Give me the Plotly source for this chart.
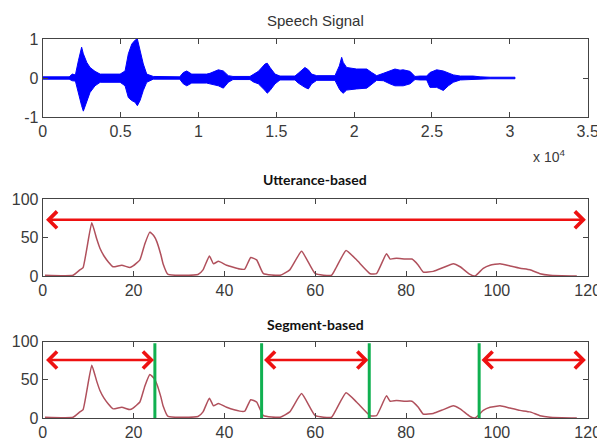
import plotly.graph_objects as go

# ---------------- data ----------------
# Speech waveform envelope (sample index, upper and lower amplitude)
speech_samples = [0, 1700, 1900, 2100, 2290, 2500, 2610, 2830, 3040, 3360,
                  3690, 4970, 5290, 5500, 5720, 5930, 6080, 6250, 6460, 6680,
                  7100, 8800, 9030, 9250, 9570, 10530, 10740, 11280, 11600, 11920,
                  12220, 13310, 13530, 13850, 14280, 14420, 14600, 14920, 15240, 16200,
                  16410, 16840, 17060, 17270, 17600, 18770, 19050, 19200, 19300, 19520,
                  20160, 20810, 21130, 21450, 21880, 22300, 22620, 22950, 23150, 23590,
                  23910, 24230, 24660, 24870, 25300, 25730, 26050, 26370, 26820, 27650,
                  28090, 28730, 30330]
speech_upper = [0.03, 0.03, 0.1, 0.08, 0.44, 0.79, 0.62, 0.40, 0.27, 0.17,
                0.1, 0.1, 0.18, 0.62, 0.87, 0.97, 1.0, 0.70, 0.36, 0.1,
                0.04, 0.03, 0.14, 0.18, 0.1, 0.1, 0.12, 0.21, 0.18, 0.06,
                0.04, 0.04, 0.1, 0.17, 0.36, 0.38, 0.27, 0.1, 0.05, 0.05,
                0.12, 0.27, 0.21, 0.1, 0.06, 0.06, 0.31, 0.53, 0.4, 0.27,
                0.23, 0.23, 0.14, 0.06, 0.12, 0.18, 0.23, 0.2, 0.21, 0.17,
                0.04, 0.05, 0.05, 0.14, 0.21, 0.18, 0.14, 0.08, 0.05, 0.05,
                0.03, 0.02, 0.02]
speech_lower = [-0.03, -0.03, -0.07, -0.08, -0.41, -0.71, -0.85, -0.58, -0.37, -0.2,
                -0.11, -0.11, -0.2, -0.5, -0.58, -0.62, -0.71, -0.58, -0.32, -0.11,
                -0.03, -0.03, -0.15, -0.2, -0.13, -0.13, -0.15, -0.2, -0.26, -0.11,
                -0.04, -0.04, -0.1, -0.15, -0.32, -0.39, -0.32, -0.15, -0.05, -0.05,
                -0.13, -0.24, -0.28, -0.15, -0.06, -0.06, -0.28, -0.36, -0.39, -0.31,
                -0.28, -0.26, -0.17, -0.06, -0.07, -0.15, -0.2, -0.2, -0.2, -0.15,
                -0.04, -0.05, -0.05, -0.24, -0.24, -0.32, -0.2, -0.11, -0.05, -0.05,
                -0.03, -0.02, -0.02]

# Frame-level feature curve (frame index, value)
frame_x = [0.5, 6.7, 8.2, 8.9, 10.8, 11.9, 12.6, 13.5, 14.5, 15.5,
           17.4, 19.2, 19.9, 21.4, 22.5, 23.6, 24.5, 25.1, 26.0, 26.5,
           27.6, 34.2, 35.3, 36.7, 37.6, 38.7, 40.5, 43.4, 44.5, 45.8,
           47.1, 48.6, 52.3, 54.4, 57.0, 60.0, 63.6, 64.7, 66.8, 69.1,
           72.1, 73.5, 75.7, 76.5, 77.9, 79.8, 81.3, 82.7, 83.8, 86.0,
           88.2, 90.4, 91.9, 94.1, 95.2, 97.0, 98.5, 100.7, 102.9, 105.1,
           107.3, 109.5, 111.7, 117.6]
frame_y = [1, 1, 8, 11, 69, 48, 36, 26, 18, 12,
           14, 11, 13, 21, 42, 57, 52, 45, 28, 16,
           2, 2, 8, 26, 16, 19, 14, 9, 9, 24,
           21, 3, 1, 8, 32, 3, 1, 12, 33, 21,
           3, 3, 29, 22, 23, 22, 22, 14, 5, 6,
           11, 16, 12, 2, 0, 10, 14, 16, 13, 10,
           8, 3, 1, 0]

# Utterance-level span and segment spans
utterance_span = [0.4, 119.6]
arrow_level_utt = 73
segment_bounds = [24.7, 48.2, 71.9, 96.1]
segment_spans = [[0.4, 24.5], [48.4, 71.7], [96.3, 119.6]]
arrow_level_seg = 76

speech_xticks = [0, 5000, 10000, 15000, 20000, 25000, 30000, 35000]
speech_xticklabels = ["0", "0.5", "1", "1.5", "2", "2.5", "3", "3.5"]
speech_yticks = [-1, 0, 1]
speech_yticklabels = ["-1", "0", "1"]
frame_xticks = [0, 20, 40, 60, 80, 100, 120]
frame_yticks = [0, 50, 100]

# ---------------- figure ----------------
W, H = 597, 441
BLUE = "#0000ff"
CURVE = "#b0505c"
ARROW = "#ee1111"
GREEN = "#10b050"
FRAME = "#444444"
TICKFONT = dict(family="Liberation Sans, Arial, sans-serif", size=16, color="#3a3a3a")

fig = go.Figure()

# speech envelope as filled polygon
fig.add_trace(go.Scatter(
    x=speech_samples + speech_samples[::-1],
    y=speech_upper + speech_lower[::-1],
    fill="toself", fillcolor=BLUE, mode="lines",
    line=dict(color=BLUE, width=1), xaxis="x", yaxis="y", hoverinfo="skip"))

for xa, ya in (("x2", "y2"), ("x3", "y3")):
    fig.add_trace(go.Scatter(x=frame_x, y=frame_y, mode="lines",
                             line=dict(color=CURVE, width=1.5, shape="spline", smoothing=0.4),
                             xaxis=xa, yaxis=ya))

def px_x(p):
    return p / W

def px_y(p):
    return 1 - p / H

L, R = px_x(42.7), px_x(587.7)
axis_common = dict(showline=True, linecolor=FRAME, linewidth=1, mirror="ticks",
                   ticks="inside", ticklen=5, tickcolor=FRAME, tickwidth=1,
                   showgrid=False, zeroline=False, tickfont=TICKFONT,
                   automargin=False, ticklabeloverflow="allow")

fig.update_layout(
    template="none",
    width=W, height=H, margin=dict(l=0, r=0, t=0, b=0),
    paper_bgcolor="white", plot_bgcolor="white", showlegend=False,
    xaxis=dict(domain=[L, R], range=[0, 35000], tickvals=speech_xticks,
               ticktext=speech_xticklabels, anchor="y", **axis_common),
    yaxis=dict(domain=[px_y(117), px_y(39)], range=[-1, 1], tickvals=speech_yticks,
               ticktext=speech_yticklabels, anchor="x", **axis_common),
    xaxis2=dict(domain=[L, R], range=[0, 120], tickvals=frame_xticks, anchor="y2", **axis_common),
    yaxis2=dict(domain=[px_y(276), px_y(199)], range=[0, 100], tickvals=frame_yticks,
                anchor="x2", **axis_common),
    xaxis3=dict(domain=[L, R], range=[0, 120], tickvals=frame_xticks, anchor="y3", **axis_common),
    yaxis3=dict(domain=[px_y(418), px_y(341.7)], range=[0, 100], tickvals=frame_yticks,
                anchor="x3", **axis_common),
)

# green segment boundaries
for b in segment_bounds:
    fig.add_shape(type="line", xref="x3", yref="y3", x0=b, x1=b, y0=0, y1=98,
                  line=dict(color=GREEN, width=3))

def double_arrow(xa, ya, x0, x1, level):
    fig.add_annotation(xref=xa, yref=ya, axref=xa, ayref=ya,
                       x=x1, y=level, ax=x0, ay=level, text="", showarrow=True,
                       arrowhead=4, startarrowhead=4, arrowside="end+start",
                       arrowsize=1.3, startarrowsize=1.3, arrowwidth=2.5, arrowcolor=ARROW,
                       standoff=0, startstandoff=0)

double_arrow("x2", "y2", utterance_span[0], utterance_span[1], arrow_level_utt)
for s in segment_spans:
    double_arrow("x3", "y3", s[0], s[1], arrow_level_seg)

# titles
fig.add_annotation(xref="paper", yref="paper", x=(L + R) / 2, y=px_y(20),
                   text="Speech Signal", showarrow=False, yanchor="middle",
                   font=dict(family="Liberation Sans, Arial, sans-serif", size=15, color="#333333"))
fig.add_annotation(xref="paper", yref="paper", x=(L + R) / 2, y=px_y(179),
                   text="<b>Utterance-based</b>", showarrow=False, yanchor="middle",
                   font=dict(family="Lato, Liberation Sans, sans-serif", size=14, color="#111111"))
fig.add_annotation(xref="paper", yref="paper", x=(L + R) / 2, y=px_y(324),
                   text="<b>Segment-based</b>", showarrow=False, yanchor="middle",
                   font=dict(family="Lato, Liberation Sans, sans-serif", size=14, color="#111111"))
fig.add_annotation(xref="paper", yref="paper", x=px_x(567), y=px_y(156),
                   text="x 10<sup>4</sup>", showarrow=False, yanchor="middle",
                   font=dict(family="Liberation Sans, Arial, sans-serif", size=14, color="#3a3a3a"))

# remove the default page margin so the 597x441 figure fills the window exactly
fig.write_html("out.html",
               config={"displayModeBar": False, "staticPlot": True},
               post_script="document.body.style.margin='0';document.body.style.overflow='hidden';")
